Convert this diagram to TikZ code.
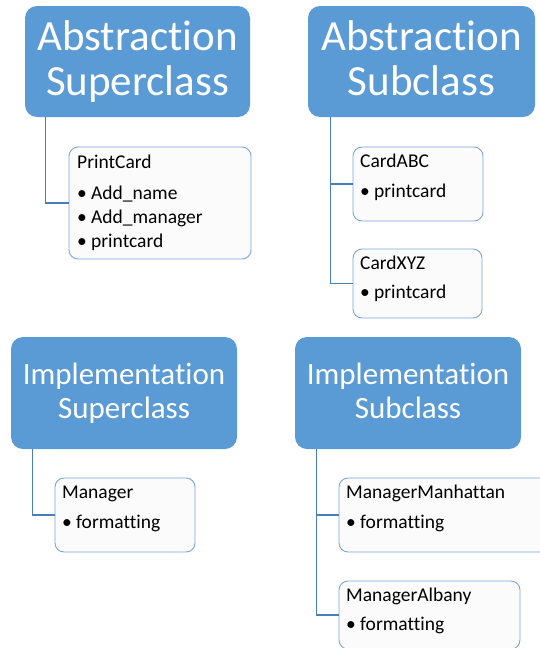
\documentclass[tikz,border=0pt]{standalone}
\usepackage{fontspec}
\setmainfont[Ligatures=NoCommon]{Carlito}
\definecolor{titleblue}{HTML}{5B9BD5}
\definecolor{linkblue}{HTML}{4A7EBB}
\definecolor{boxline}{HTML}{7BA7DB}
\definecolor{boxfill}{HTML}{FBFBFB}
\begin{document}
\begin{tikzpicture}[x=1pt,y=-1pt,
  titlebox/.style={fill=titleblue,draw=none,rounded corners=12pt,text=white,align=center,inner sep=0pt},
  abstitle/.style={titlebox,font=\fontsize{43}{45}\selectfont},
  imptitle/.style={titlebox,font=\fontsize{31}{34}\selectfont},
  childbox/.style={fill=boxfill,draw=boxline,line width=0.9pt,rounded corners=9pt,inner sep=0pt},
  childtext/.style={anchor=base west,inner sep=0pt,font=\fontsize{19.5}{23}\selectfont},
  link/.style={draw=linkblue,line width=1.1pt}]
\useasboundingbox (0,0) rectangle (539,648);

% title boxes
\node[abstitle,minimum width=225pt,minimum height=111pt] (t1) at (137.5,61.5) {Abstraction\\Superclass};
\node[abstitle,minimum width=227pt,minimum height=111pt] (t2) at (421.5,61.5) {Abstraction\\Subclass\vphantom{p}};
\node[imptitle,minimum width=226pt,minimum height=112pt] (t3) at (124,393) {Implementation\\Superclass};
\node[imptitle,minimum width=226pt,minimum height=112pt] (t4) at (408,393) {Implementation\\Subclass\vphantom{p}};

% child boxes
\node[childbox,minimum width=182pt,minimum height=112pt] (pc) at (160,203) {};
\node[childbox,minimum width=130pt,minimum height=74pt] (abc) at (418,184) {};
\node[childbox,minimum width=129pt,minimum height=69pt] (xyz) at (417.5,283.5) {};
\node[childbox,minimum width=140pt,minimum height=74pt] (mgr) at (125,515) {};
\node[childbox,minimum width=225pt,minimum height=74pt] (mm) at (451.5,515) {};
\node[childbox,minimum width=181pt,minimum height=68pt] (ma) at (429.5,615) {};

% connectors
\draw[link] ([xshift=21pt]t1.south west) |- (pc.west);
\draw[link] ([xshift=23pt]t2.south west) |- (abc.west);
\draw[link] ([xshift=23pt]t2.south west) |- (xyz.west);
\draw[link] ([xshift=22pt]t3.south west) |- (mgr.west);
\draw[link] ([xshift=22pt]t4.south west) |- (mm.west);
\draw[link] ([xshift=22pt]t4.south west) |- (ma.west);

% child texts
\node[childtext] (pc0) at (77,168) {PrintCard};
\node[childtext] (pc1) at (77,199) {\makebox[14pt][l]{\textbullet}Add\_name};
\node[childtext] (pc2) at (77,223) {\makebox[14pt][l]{\textbullet}Add\_manager};
\node[childtext] (pc3) at (77,247) {\makebox[14pt][l]{\textbullet}printcard};

\node[childtext] (abc0) at (360,167) {CardABC};
\node[childtext] (abc1) at (360,197) {\makebox[14pt][l]{\textbullet}printcard};

\node[childtext] (xyz0) at (360,269) {CardXYZ};
\node[childtext] (xyz1) at (360,298) {\makebox[14pt][l]{\textbullet}printcard};

\node[childtext] (mgr0) at (62,498) {Manager};
\node[childtext] (mgr1) at (62,528) {\makebox[14pt][l]{\textbullet}formatting};

\node[childtext] (mm0) at (346,498) {ManagerManhattan};
\node[childtext] (mm1) at (346,528) {\makebox[14pt][l]{\textbullet}formatting};

\node[childtext] (ma0) at (346,601) {ManagerAlbany};
\node[childtext] (ma1) at (346,630) {\makebox[14pt][l]{\textbullet}formatting};
\end{tikzpicture}
\end{document}
